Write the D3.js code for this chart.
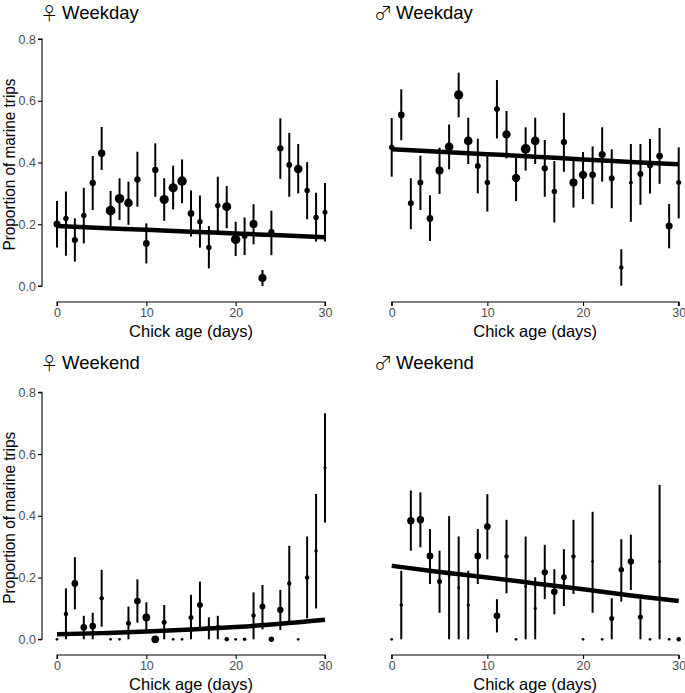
<!DOCTYPE html>
<html>
<head>
<meta charset="utf-8">
<script src="https://cdn.jsdelivr.net/npm/d3@7"></script>
<style>
  body { margin: 0; background: #fff; }
  text { font-family: "Liberation Sans", Arial, sans-serif; }
</style>
</head>
<body>
<div id="chart"></div>
<script>
// chick age in days
var days = d3.range(0, 31);

// female, weekday
var femWeekdayP  = [0.201,0.219,0.149,0.228,0.334,0.430,0.244,0.283,0.269,0.345,0.138,0.376,0.280,0.318,0.340,0.235,0.208,0.125,0.261,0.257,0.151,0.162,0.201,0.026,0.174,0.446,0.392,0.379,0.309,0.222,0.239];
var femWeekdayLo = [0.125,0.098,0.079,0.138,0.246,0.376,0.181,0.214,0.198,0.257,0.073,0.289,0.211,0.248,0.268,0.160,0.124,0.057,0.171,0.187,0.097,0.100,0.135,0.000,0.100,0.347,0.289,0.300,0.216,0.144,0.144];
var femWeekdayHi = [0.275,0.306,0.219,0.318,0.421,0.515,0.308,0.349,0.338,0.435,0.203,0.462,0.349,0.390,0.410,0.309,0.293,0.194,0.354,0.324,0.208,0.222,0.265,0.052,0.244,0.543,0.496,0.460,0.401,0.302,0.334];
var femWeekdayN  = [20,12,15,12,16,22,38,36,30,16,18,16,34,34,36,18,12,12,12,32,36,14,26,26,16,16,13,30,12,12,10];

// male, weekday
var maleWeekdayP  = [0.449,0.554,0.268,0.335,0.219,0.374,0.451,0.619,0.470,0.389,0.335,0.573,0.491,0.350,0.444,0.470,0.381,0.306,0.466,0.335,0.360,0.360,0.426,0.349,0.060,0.335,0.363,0.390,0.421,0.194,0.335];
var maleWeekdayLo = [0.354,0.472,0.184,0.246,0.146,0.298,0.378,0.546,0.395,0.300,0.241,0.478,0.413,0.275,0.374,0.395,0.289,0.206,0.370,0.254,0.282,0.265,0.338,0.252,0.001,0.208,0.263,0.300,0.331,0.122,0.219];
var maleWeekdayHi = [0.544,0.637,0.349,0.422,0.294,0.448,0.523,0.691,0.545,0.477,0.425,0.667,0.567,0.424,0.514,0.545,0.473,0.405,0.561,0.412,0.434,0.452,0.514,0.443,0.119,0.460,0.460,0.476,0.512,0.266,0.449];
var maleWeekdayN  = [12,18,14,14,18,26,30,34,30,14,12,14,28,28,38,30,16,12,16,26,28,18,20,14,8,6,14,14,18,20,10];

// female, weekend
var femWeekendP  = [0,0.082,0.181,0.039,0.043,0.133,0,0,0.052,0.124,0.071,0,0.055,0,0,0.071,0.111,0.036,0.038,0,0,0,0.077,0.106,0,0.095,0.181,0,0.200,0.286,0.556];
var femWeekendLo = [0,0,0.097,0,0,0.041,0,0,0,0.054,0.022,0,0,0,0,0,0.036,0,0,0,0,0,0,0.032,0,0.030,0.057,0,0.068,0.100,0.378];
var femWeekendHi = [0,0.165,0.266,0.076,0.086,0.225,0,0,0.106,0.194,0.120,0,0.111,0,0,0.144,0.187,0.071,0.076,0,0,0,0.152,0.176,0,0.160,0.303,0,0.333,0.471,0.732];
var femWeekendN  = [3,8,18,18,18,8,3,3,10,18,24,24,10,3,3,10,14,10,10,8,3,5,8,14,12,16,8,3,8,5,4];

// male, weekend
var maleWeekendP  = [0,0.111,0.384,0.387,0.270,0.187,0.205,0.167,0.111,0.270,0.365,0.076,0.268,0,0.171,0.100,0.217,0.154,0.201,0.268,0,0.252,0,0.067,0.225,0.252,0.072,0,0.252,0,0];
var maleWeekendLo = [0,0,0.287,0.298,0.179,0.086,0,0,0,0.179,0.259,0.022,0.149,0,0,0,0.130,0.081,0.108,0.147,0,0.086,0,0,0.122,0.160,0,0,0,0,0];
var maleWeekendHi = [0,0.222,0.482,0.476,0.357,0.287,0.399,0.333,0.222,0.357,0.470,0.130,0.387,0,0.333,0.201,0.306,0.227,0.292,0.387,0,0.413,0,0.133,0.324,0.339,0.130,0,0.500,0,0];
var maleWeekendN  = [3,5,22,22,18,10,3,3,4,18,18,18,8,3,3,4,16,18,14,8,3,3,3,10,12,16,10,3,3,3,8];

// fitted trend, read at every 5 days
var fitDays = [0,5,10,15,20,25,30];
var femWeekdayFit  = [0.194,0.188,0.182,0.176,0.170,0.164,0.158];
var maleWeekdayFit = [0.443,0.435,0.427,0.419,0.410,0.402,0.394];
var femWeekendFit  = [0.016,0.020,0.025,0.032,0.040,0.050,0.063];
var maleWeekendFit = [0.238,0.218,0.200,0.181,0.162,0.142,0.124];

var yTicks = [0, 0.2, 0.4, 0.6, 0.8];
var xTicks = [0, 10, 20, 30];

var panels = [
  {sym: "\u2640", title: "Weekday", p: femWeekdayP, lo: femWeekdayLo, hi: femWeekdayHi, n: femWeekdayN, fit: femWeekdayFit, col: 0, row: 0},
  {sym: "\u2642", title: "Weekday", p: maleWeekdayP, lo: maleWeekdayLo, hi: maleWeekdayHi, n: maleWeekdayN, fit: maleWeekdayFit, col: 1, row: 0},
  {sym: "\u2640", title: "Weekend", p: femWeekendP, lo: femWeekendLo, hi: femWeekendHi, n: femWeekendN, fit: femWeekendFit, col: 0, row: 1},
  {sym: "\u2642", title: "Weekend", p: maleWeekendP, lo: maleWeekendLo, hi: maleWeekendHi, n: maleWeekendN, fit: maleWeekendFit, col: 1, row: 1}
];

// layout
var W = 685, H = 693;
var cols = [{x0: 57, x1: 325, titleX: 43}, {x0: 391.7, x1: 678.7, titleX: 377}];
var rows = [{y0: 286, y1: 39, axisY: 302, titleY: 19}, {y0: 639.3, y1: 392.3, axisY: 655, titleY: 369}];

var svg = d3.select("#chart").append("svg")
    .attr("width", W).attr("height", H);

var rScale = d3.scaleSqrt().domain([0, 40]).range([0, 5]);

panels.forEach(function(pn){
  var c = cols[pn.col], r = rows[pn.row];
  var x = d3.scaleLinear().domain([0, 30]).range([c.x0, c.x1]);
  var y = d3.scaleLinear().domain([0, 0.8]).range([r.y0, r.y1]);
  var g = svg.append("g");

  g.append("text")
    .attr("x", c.titleX - 3).attr("y", r.titleY + 1)
    .style("font-family", "'Noto Sans CJK JP', 'DejaVu Sans', sans-serif")
    .style("font-size", "18.5px")
    .style("font-weight", "300")
    .text(pn.sym);
  g.append("text")
    .attr("x", c.titleX + 19).attr("y", r.titleY)
    .style("font-size", "18.5px")
    .text(pn.title);

  // x axis
  var xa = g.append("g")
    .attr("transform", "translate(0," + r.axisY + ")")
    .call(d3.axisBottom(x).tickValues(xTicks).tickSize(4).tickPadding(2));
  xa.select(".domain").attr("d", "M" + c.x0 + ",4V0H" + c.x1 + "V4").attr("stroke", "#000").attr("stroke-width", 1.1);
  xa.selectAll(".tick line").attr("stroke", "#000").attr("stroke-width", 1.1);
  xa.selectAll(".tick text").style("font-size", "12.5px").attr("fill", "#4d4d4d")
    .style("font-family", "'Liberation Sans', Arial, sans-serif");

  g.append("text")
    .attr("x", (c.x0 + c.x1) / 2).attr("y", r.axisY + 35)
    .attr("text-anchor", "middle")
    .style("font-size", "16.5px")
    .text("Chick age (days)");

  // y axis only on the left column
  if (pn.col === 0) {
    var ya = g.append("g")
      .attr("transform", "translate(42,0)")
      .call(d3.axisLeft(y).tickValues(yTicks).tickFormat(d3.format(".1f")).tickSize(4).tickPadding(2));
    ya.select(".domain").attr("d", "M-4," + r.y1 + "H0V" + r.y0 + "H-4").attr("stroke", "#000").attr("stroke-width", 1.1);
    ya.selectAll(".tick line").attr("stroke", "#000").attr("stroke-width", 1.1);
    ya.selectAll(".tick text").style("font-size", "12.5px").attr("fill", "#4d4d4d")
      .style("font-family", "'Liberation Sans', Arial, sans-serif");

    g.append("text")
      .attr("transform", "translate(14.5," + ((r.y0 + r.y1) / 2 + 2) + ") rotate(-90)")
      .attr("text-anchor", "middle")
      .attr("textLength", 172)
      .attr("lengthAdjust", "spacingAndGlyphs")
      .style("font-size", "16px")
      .text("Proportion of marine trips");
  }

  var pts = days.map(function(d, i){
    return {day: d, p: pn.p[i], lo: pn.lo[i], hi: pn.hi[i], n: pn.n[i]};
  });

  g.selectAll(".err").data(pts.filter(function(d){ return d.hi > d.lo; }))
    .enter().append("line")
    .attr("class", "err")
    .attr("x1", function(d){ return x(d.day); })
    .attr("x2", function(d){ return x(d.day); })
    .attr("y1", function(d){ return y(d.lo); })
    .attr("y2", function(d){ return y(d.hi); })
    .attr("stroke", "#000").attr("stroke-width", 2);

  g.selectAll(".pt").data(pts)
    .enter().append("circle")
    .attr("class", "pt")
    .attr("cx", function(d){ return x(d.day); })
    .attr("cy", function(d){ return y(d.p); })
    .attr("r", function(d){ return rScale(d.n); })
    .attr("fill", "#000");

  var line = d3.line()
    .x(function(d, i){ return x(fitDays[i]); })
    .y(function(d){ return y(d); })
    .curve(d3.curveMonotoneX);

  g.append("path")
    .datum(pn.fit)
    .attr("d", line)
    .attr("fill", "none")
    .attr("stroke", "#000")
    .attr("stroke-width", 4.5);
});
</script>
</body>
</html>
